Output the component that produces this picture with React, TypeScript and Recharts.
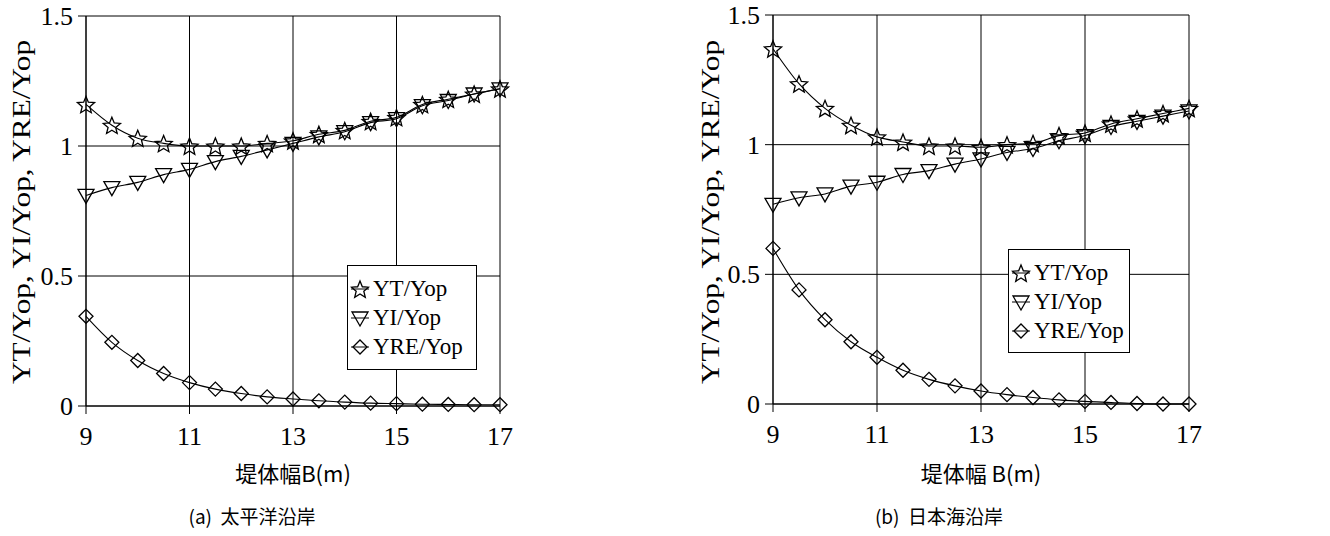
import React from "react";
import { LineChart, Line, XAxis, YAxis, CartesianGrid } from "recharts";

// x positions: dike width B (m)
const widths = [9, 9.5, 10, 10.5, 11, 11.5, 12, 12.5, 13, 13.5, 14, 14.5, 15, 15.5, 16, 16.5, 17];

// (a) Pacific coast
const pacificYT = [1.16, 1.08, 1.03, 1.01, 1.0, 1.0, 1.0, 1.01, 1.02, 1.045, 1.06, 1.095, 1.11, 1.16, 1.18, 1.2, 1.22];
const pacificYI = [0.81, 0.84, 0.86, 0.89, 0.91, 0.94, 0.96, 0.985, 1.01, 1.035, 1.055, 1.09, 1.105, 1.155, 1.175, 1.2, 1.22];
const pacificYRE = [0.345, 0.245, 0.175, 0.125, 0.09, 0.065, 0.048, 0.035, 0.027, 0.02, 0.015, 0.011, 0.009, 0.007, 0.006, 0.005, 0.005];

// (b) Japan Sea coast
const japanSeaYT = [1.37, 1.235, 1.14, 1.075, 1.03, 1.01, 0.995, 0.995, 0.99, 1.0, 1.005, 1.035, 1.045, 1.08, 1.1, 1.12, 1.14];
const japanSeaYI = [0.77, 0.795, 0.81, 0.84, 0.855, 0.885, 0.9, 0.925, 0.945, 0.97, 0.985, 1.015, 1.035, 1.07, 1.09, 1.11, 1.13];
const japanSeaYRE = [0.6, 0.44, 0.325, 0.24, 0.18, 0.13, 0.095, 0.07, 0.05, 0.036, 0.025, 0.016, 0.01, 0.006, 0.002, 0, 0];

const xTicks = [9, 11, 13, 15, 17];
const yTicks = [0, 0.5, 1, 1.5];
const seriesNames = ["YT/Yop", "YI/Yop", "YRE/Yop"];
const yTitle = "YT/Yop, YI/Yop, YRE/Yop";

const serif = "'Liberation Serif', 'Times New Roman', serif";
const cjk = "'Noto Sans CJK JP', 'Noto Sans', sans-serif";

const buildRows = (yt: number[], yi: number[], yre: number[]) =>
  widths.map((x, i) => ({ x, yt: yt[i], yi: yi[i], yre: yre[i] }));

const starPoints = (cx: number, cy: number, R = 9, r = 4) => {
  const pts: string[] = [];
  for (let k = 0; k < 10; k++) {
    const rad = k % 2 === 0 ? R : r;
    const a = -Math.PI / 2 + (k * Math.PI) / 5;
    pts.push(`${cx + rad * Math.cos(a)},${cy + rad * Math.sin(a) + 1}`);
  }
  return pts.join(" ");
};
const triPoints = (cx: number, cy: number) =>
  `${cx - 8},${cy - 6} ${cx + 8},${cy - 6} ${cx},${cy + 8}`;
const diaPoints = (cx: number, cy: number) =>
  `${cx - 7},${cy} ${cx},${cy - 7} ${cx + 7},${cy} ${cx},${cy + 7}`;

const markerStyle = { fill: "none", stroke: "#000", strokeWidth: 1.3 };

const StarDot = (p: any) =>
  p.cx == null ? null : <polygon key={`s${p.index}`} points={starPoints(p.cx, p.cy)} {...markerStyle} />;
const TriDot = (p: any) =>
  p.cx == null ? null : <polygon key={`t${p.index}`} points={triPoints(p.cx, p.cy)} {...markerStyle} />;
const DiaDot = (p: any) =>
  p.cx == null ? null : <polygon key={`d${p.index}`} points={diaPoints(p.cx, p.cy)} {...markerStyle} />;

const tickStyle = { fontFamily: serif, fontSize: 26, fill: "#000" };

const XTick = (p: any) => (
  <text x={p.x} y={p.y} dy={27} textAnchor="middle" style={tickStyle}>
    {p.payload.value}
  </text>
);
const YTick = (p: any) => (
  <text x={p.x} y={p.y} dy={9} textAnchor="end" style={tickStyle}>
    {p.payload.value}
  </text>
);

function LegendBox({ x, y, w, h }: { x: number; y: number; w: number; h: number }) {
  const icons = [starPoints(10, 10), triPoints(10, 10), diaPoints(10, 10)];
  return (
    <div
      style={{
        position: "absolute",
        left: x,
        top: y,
        width: w,
        height: h,
        boxSizing: "border-box",
        border: "1.5px solid #000",
        background: "#fff",
        paddingTop: 8,
        paddingLeft: 2,
      }}
    >
      {seriesNames.map((name, i) => (
        <div key={name} style={{ display: "flex", alignItems: "center", height: 29 }}>
          <svg width={20} height={20} style={{ marginRight: 3 }}>
            <line x1={1} y1={10} x2={19} y2={10} stroke="#000" strokeWidth={1} />
            <polygon points={icons[i]} {...markerStyle} />
          </svg>
          <span style={{ fontFamily: serif, fontSize: 23, lineHeight: "29px" }}>{name}</span>
        </div>
      ))}
    </div>
  );
}

type PanelProps = {
  left: number;
  yAxisWidth: number;
  margin: { top: number; right: number; bottom: number; left: number };
  rows: any[];
  legend: { x: number; y: number; w: number; h: number };
  yTitleX: number;
  xTitle: string;
  xTitleX: number;
  caption: string;
  captionX: number;
};

function Panel(props: PanelProps) {
  return (
    <div style={{ position: "absolute", left: props.left, top: 0, width: 600, height: 536 }}>
      <LineChart width={600} height={536} data={props.rows} margin={props.margin}>
        <CartesianGrid stroke="#000" strokeWidth={1} />
        <XAxis
          dataKey="x"
          type="number"
          domain={[9, 17]}
          ticks={xTicks}
          interval={0}
          height={40}
          tickSize={8}
          tickMargin={4}
          tick={XTick}
          stroke="#000"
        />
        <YAxis
          type="number"
          domain={[0, 1.5]}
          ticks={yTicks}
          interval={0}
          width={props.yAxisWidth}
          tickSize={8}
          tickMargin={5}
          tick={YTick}
          stroke="#000"
        />
        <Line type="monotone" dataKey="yt" name={seriesNames[0]} stroke="#000" strokeWidth={1.1} dot={StarDot} isAnimationActive={false} />
        <Line type="monotone" dataKey="yi" name={seriesNames[1]} stroke="#000" strokeWidth={1.1} dot={TriDot} isAnimationActive={false} />
        <Line type="monotone" dataKey="yre" name={seriesNames[2]} stroke="#000" strokeWidth={1.1} dot={DiaDot} isAnimationActive={false} />
      </LineChart>
      <LegendBox {...props.legend} />
      <div
        style={{
          position: "absolute",
          left: props.yTitleX,
          top: 212,
          transform: "translate(-50%, -50%) rotate(-90deg) scaleX(1.25)",
          whiteSpace: "nowrap",
          fontFamily: serif,
          fontSize: 25,
          lineHeight: "26px",
        }}
      >
        {yTitle}
      </div>
      <div
        style={{
          position: "absolute",
          left: props.xTitleX - 150,
          width: 300,
          top: 457,
          textAlign: "center",
          fontFamily: cjk,
          fontSize: 22,
          lineHeight: "30px",
          whiteSpace: "pre",
        }}
      >
        {props.xTitle}
      </div>
      <div
        style={{
          position: "absolute",
          left: props.captionX - 150,
          width: 300,
          top: 503,
          textAlign: "center",
          fontFamily: cjk,
          fontSize: 19,
          lineHeight: "26px",
          whiteSpace: "pre",
        }}
      >
        {props.caption}
      </div>
    </div>
  );
}

export default function App() {
  return (
    <div style={{ position: "absolute", left: 0, top: 0, width: 1330, height: 536, background: "#fff" }}>
      <Panel
        left={0}
        yAxisWidth={86}
        margin={{ top: 16, right: 100, bottom: 90, left: 0 }}
        rows={buildRows(pacificYT, pacificYI, pacificYRE)}
        legend={{ x: 347, y: 265, w: 130, h: 105 }}
        yTitleX={22}
        xTitle="堤体幅B(m)"
        xTitleX={293}
        caption="(a)  太平洋沿岸"
        captionX={252}
      />
      <Panel
        left={690}
        yAxisWidth={83}
        margin={{ top: 15, right: 101, bottom: 92, left: 0 }}
        rows={buildRows(japanSeaYT, japanSeaYI, japanSeaYRE)}
        legend={{ x: 318, y: 249, w: 122, h: 104 }}
        yTitleX={21}
        xTitle="堤体幅 B(m)"
        xTitleX={291}
        caption="(b)  日本海沿岸"
        captionX={249}
      />
    </div>
  );
}
